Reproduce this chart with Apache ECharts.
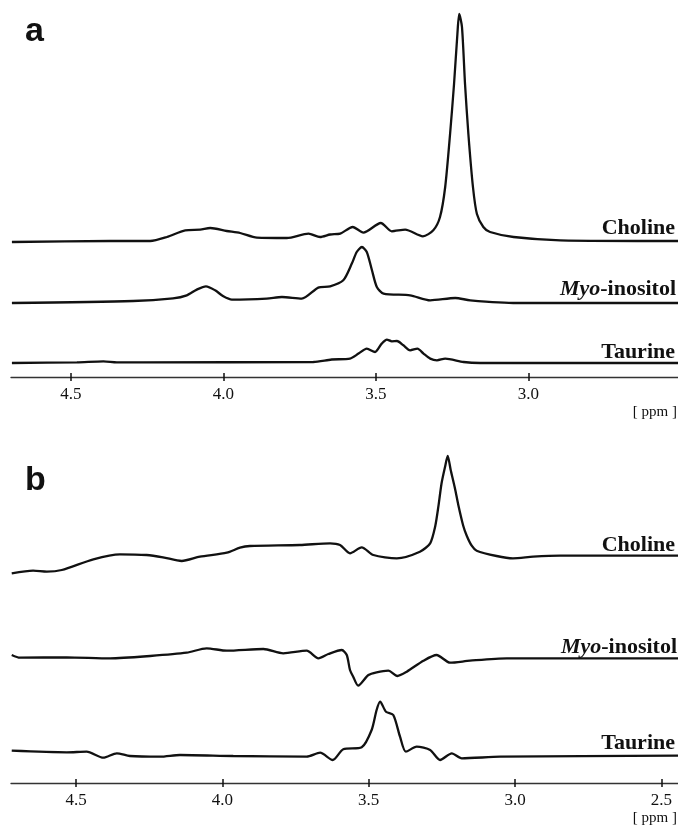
<!DOCTYPE html>
<html>
<head>
<meta charset="utf-8">
<script src="https://cdn.jsdelivr.net/npm/echarts@6/dist/echarts.min.js"></script>
<style>
html,body{margin:0;padding:0;background:#fff;}
#c{width:678px;height:827px;}
</style>
</head>
<body>
<div id="c"></div>
<script>
// ---- Data (chemical shift in ppm, intensity relative to each trace's baseline) ----
const ticksA = [4.5, 4.0, 3.5, 3.0];
const ticksB = [4.5, 4.0, 3.5, 3.0, 2.5];
const traceNames = ['Choline', 'Myo-inositol', 'Taurine'];
const offsetsA = [136, 74, 14];
const offsetsB = [227.3, 124.7, 27.3];

const cholineA_ppm = [4.693,4.371,4.240,4.185,4.125,4.076,4.043,3.989,3.945,3.890,3.792,3.721,3.683,3.650,3.617,3.576,3.541,3.484,3.448,3.404,3.346,3.312,3.290,3.273,3.257,3.244,3.233,3.227,3.218,3.208,3.197,3.182,3.169,3.148,3.126,3.049,2.896,2.51];
const cholineA_int = [-1,0,0,4,10.7,11.4,13,10,8,3.4,3,7.4,4,6.5,7.4,14,8.4,18,9.7,11.4,4.7,10.7,24,54,107,157,207,227,214,157,107,54,27,14,9,4,0.7,0];

const myoA_ppm = [4.693,4.296,4.165,4.120,4.087,4.057,4.027,4.000,3.972,3.858,3.808,3.743,3.689,3.650,3.607,3.579,3.563,3.546,3.530,3.513,3.497,3.475,3.388,3.322,3.240,3.191,3.038,2.51];
const myoA_int = [0,2,4.7,7.7,13.4,16.7,12.7,6.7,3.4,4.4,6,4.4,15.4,16.7,22.7,39.4,51,56,51,32.7,16,9.4,7.7,2.7,5,2.7,0,0];

const taurineA_ppm = [4.693,4.480,4.393,4.349,4.262,3.705,3.645,3.585,3.557,3.530,3.503,3.481,3.464,3.448,3.431,3.410,3.388,3.364,3.344,3.322,3.300,3.273,3.213,3.158,2.51];
const taurineA_int = [0,0.7,1.7,0.7,0.7,1,3.5,4.4,9.4,14.4,11,19.4,23.4,21.7,22,17.7,12.7,14.4,9.4,4.4,2.7,4.4,1,0,0];

const cholineB_ppm = [4.720,4.647,4.600,4.549,4.441,4.350,4.259,4.203,4.139,4.077,3.985,3.940,3.906,3.735,3.632,3.598,3.564,3.524,3.484,3.404,3.325,3.290,3.273,3.262,3.251,3.239,3.230,3.220,3.205,3.194,3.177,3.165,3.148,3.131,3.063,3.007,2.938,2.846,2.443];
const cholineB_int = [-17.6,-15,-16,-14.3,-3.6,1.4,0.7,-1.6,-5.3,-1,3,8,9.7,10.7,12.4,10.7,2.4,8.4,0.7,-2.6,4,12.4,29,49,72.4,89,99.7,86,67,51,30,20,10,5,-0.3,-2.6,-1,0,0];

const myoB_ppm = [4.720,4.692,4.532,4.384,4.247,4.122,4.054,3.985,3.860,3.792,3.712,3.672,3.638,3.592,3.575,3.564,3.553,3.536,3.501,3.473,3.433,3.402,3.370,3.313,3.268,3.222,3.154,3.028,2.443];
const myoB_int = [3.3,0.6,1,0,2.3,5.6,10,7.6,9.3,5,7.6,0,4.3,8.3,3.3,-11.7,-18.4,-27.4,-16.7,-14,-12.4,-17.7,-13.4,-2.4,3.3,-4.4,-2.4,0,0];

const taurineB_ppm = [4.720,4.532,4.464,4.407,4.361,4.316,4.213,4.145,3.963,3.712,3.666,3.623,3.587,3.524,3.490,3.473,3.461,3.441,3.416,3.393,3.373,3.336,3.290,3.256,3.216,3.182,3.051,2.443];
const taurineB_int = [5,3.4,4,-2,2.4,-0.3,-1,0.7,-0.3,-1,3,-4.3,6.4,8.4,25.7,45.7,54,44,40.7,19,4,9,5.7,-4.3,2.4,-2.6,-1,0];

// ---- Build ----
function pts(ppm, ints, off){ return ppm.map((p,i)=>[p, ints[i] + off]); }
const lineStyle = {color:'#111', width:2.3};
function mkSeries(data, xi, yi){
  return {type:'line', xAxisIndex:xi, yAxisIndex:yi, data:data, showSymbol:false, symbol:'none',
          smooth:0.25, lineStyle:lineStyle, silent:true, animation:false, z:3};
}
const serif = '"Liberation Serif","Times New Roman",serif';
function xAxes(gi, min, max, ticks){
  const base = {type:'value', gridIndex:gi, min:min, max:max, inverse:true, position:'bottom', splitLine:{show:false}};
  return [
    Object.assign({}, base, {
      axisLine:{show:true, onZero:false, lineStyle:{color:'#333', width:1.3}},
      axisTick:{show:true, inside:false, length:4, customValues:ticks, lineStyle:{color:'#111', width:1.5}},
      axisLabel:{show:true, customValues:ticks, margin:9, color:'#111', fontFamily:serif, fontSize:17,
                 formatter:v=>v.toFixed(1)}
    }),
    Object.assign({}, base, {
      axisLine:{show:false},
      axisTick:{show:true, inside:true, length:4, customValues:ticks, lineStyle:{color:'#111', width:1.5}},
      axisLabel:{show:false}
    })
  ];
}
function yAx(gi){ return {type:'value', gridIndex:gi, min:0, max:370, show:false}; }

const option = {
  animation:false,
  backgroundColor:'#fff',
  grid:[
    {left:11, right:0, top:7, height:370},
    {left:11, right:0, top:413, height:370}
  ],
  xAxis:[].concat(xAxes(0, 2.51, 4.696, ticksA), xAxes(1, 2.443, 4.7225, ticksB)),
  yAxis:[yAx(0), yAx(1)],
  series:[
    mkSeries(pts(cholineA_ppm, cholineA_int, offsetsA[0]), 0, 0),
    mkSeries(pts(myoA_ppm, myoA_int, offsetsA[1]), 0, 0),
    mkSeries(pts(taurineA_ppm, taurineA_int, offsetsA[2]), 0, 0),
    mkSeries(pts(cholineB_ppm, cholineB_int, offsetsB[0]), 2, 1),
    mkSeries(pts(myoB_ppm, myoB_int, offsetsB[1]), 2, 1),
    mkSeries(pts(taurineB_ppm, taurineB_int, offsetsB[2]), 2, 1)
  ],
  graphic:[]
};

function label(x, y, text, font, align){
  return {type:'text', x:x, y:y, silent:true, z:10,
          style:{text:text, font:font, fill:'#111', align:align||'right', verticalAlign:'middle'}};
}
function myoLabel(x, y){
  return {type:'text', x:x, y:y, silent:true, z:10,
          style:{text:'{i|Myo}{b|-inositol}', align:'right', verticalAlign:'middle', fill:'#111',
                 rich:{i:{font:'italic bold 22px ' + serif, fill:'#111'},
                       b:{font:'bold 22px ' + serif, fill:'#111'}}}};
}
const nameFont = 'bold 22px ' + serif;
const panelFont = 'bold 34px "Liberation Sans",Arial,sans-serif';
const unitFont = '15px ' + serif;
option.graphic = [
  label(25, 32, 'a', panelFont, 'left'),
  label(25, 481, 'b', panelFont, 'left'),
  label(675, 228.6, traceNames[0], nameFont),
  myoLabel(676, 289.6),
  label(675, 352.6, traceNames[2], nameFont),
  label(675, 545.6, traceNames[0], nameFont),
  myoLabel(677, 647.6),
  label(675, 743.3, traceNames[2], nameFont),
  label(677, 412, '[ ppm ]', unitFont),
  label(677, 818, '[ ppm ]', unitFont)
];

const chart = echarts.init(document.getElementById('c'), null, {renderer:'canvas'});
chart.setOption(option);
</script>
</body>
</html>
